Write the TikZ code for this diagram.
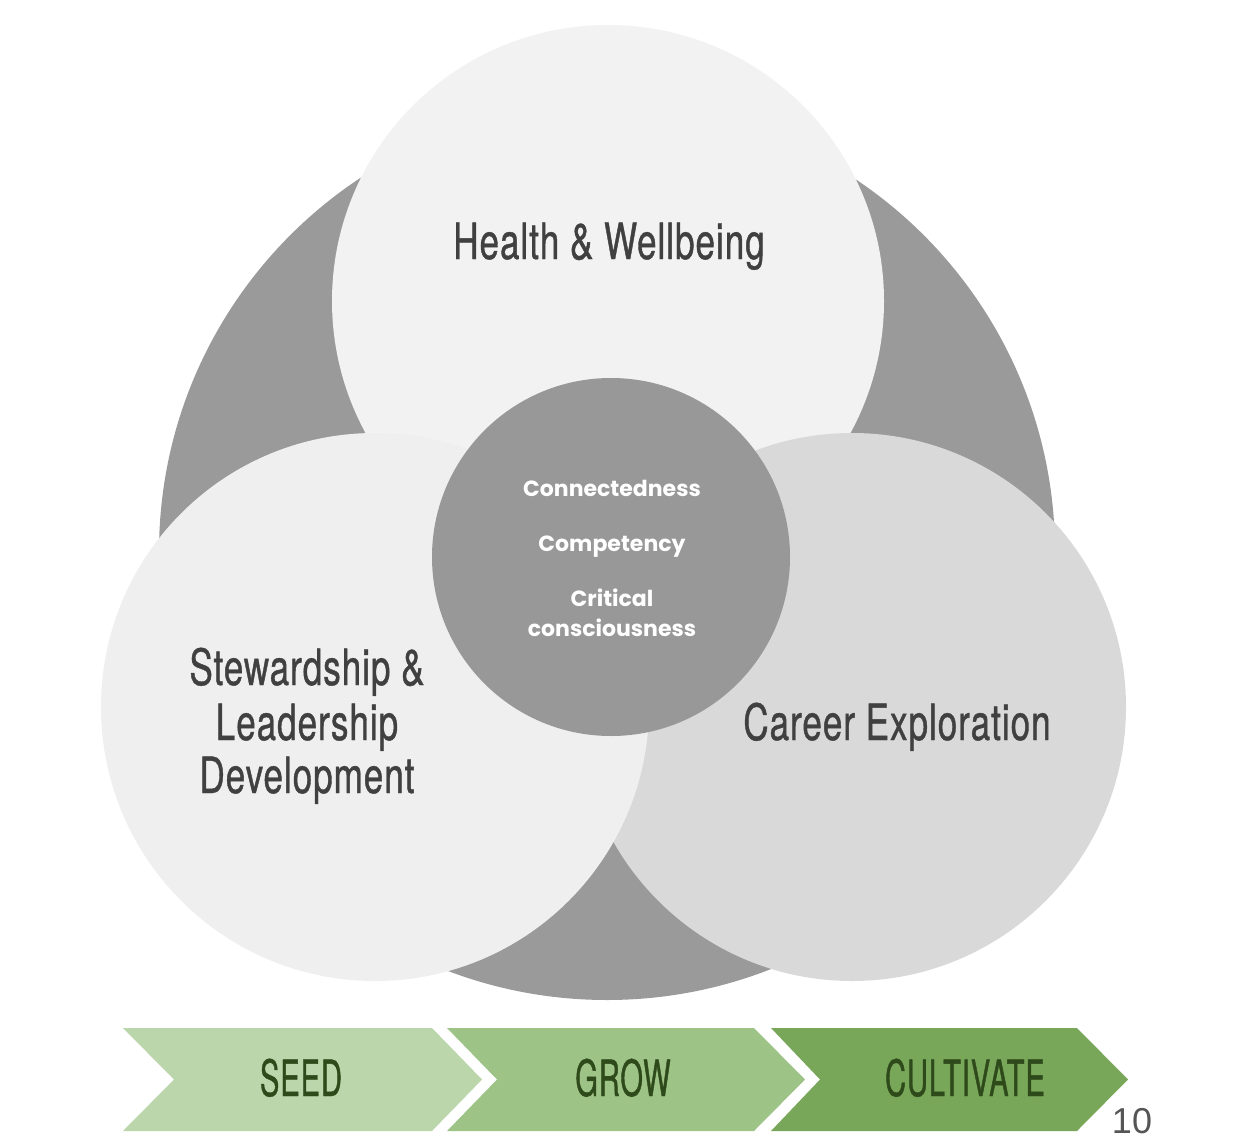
\documentclass[tikz,border=0pt]{standalone}
\usepackage{fontspec}
\newfontfamily\oswald[FakeStretch=0.7,FakeBold=0.8,LetterSpace=2]{TeX Gyre Heros}
\newfontfamily\oswaldcaps[FakeStretch=0.58,FakeBold=0.8,LetterSpace=2]{TeX Gyre Heros}
\newfontfamily\mont{Poppins}
\newfontfamily\pagefont{Liberation Sans}
\definecolor{bigc}{HTML}{9A9A9A}
\definecolor{midc}{HTML}{989898}
\definecolor{topc}{HTML}{F2F2F2}
\definecolor{leftc}{HTML}{EFEFEF}
\definecolor{rightc}{HTML}{D9D9D9}
\definecolor{seedc}{HTML}{BBD6AB}
\definecolor{growc}{HTML}{9EC387}
\definecolor{cultc}{HTML}{79A75A}
\definecolor{greentext}{HTML}{2E4A1B}
\definecolor{graytext}{HTML}{404040}
\definecolor{pagec}{HTML}{555555}
\tikzset{
  disc/.style={circle, inner sep=0pt, draw=none},
  heading/.style={font=\oswald\fontsize{50}{55}\selectfont, text=graytext, anchor=base, align=center, inner sep=0pt},
  stagetext/.style={font=\oswaldcaps\fontsize{50}{55}\selectfont, text=greentext, anchor=base, inner sep=0pt},
  coretext/.style={font=\mont\bfseries\fontsize{22}{30}\selectfont, text=white, anchor=base, align=center, inner sep=0pt},
}
\begin{document}
\begin{tikzpicture}[x=1pt,y=-1pt]
\fill[white] (0,0) rectangle (1240,1146);
\useasboundingbox (0,0) rectangle (1240,1146);
% circles
\node[disc, fill=bigc, minimum size=896pt] (big) at (607,552) {};
\node[disc, fill=topc, minimum size=552pt] (health) at (608,301) {};
\node[disc, fill=rightc, minimum size=548pt] (career) at (852,707) {};
\node[disc, fill=leftc, minimum size=548pt] (steward) at (375,707) {};
\node[disc, fill=midc, minimum size=358pt] (core) at (611,557) {};
% headings
\node[heading] (th) at (609,259) {Health \& Wellbeing};
\node[heading] (ts1) at (307,685) {Stewardship \&};
\node[heading] (ts2) at (307,740) {Leadership};
\node[heading] (ts3) at (307,793) {Development};
\node[heading] (tc) at (897,740) {Career Exploration};
% core text
\node[coretext] (c1) at (612,496) {Connectedness};
\node[coretext] (c2) at (612,551) {Competency};
\node[coretext] (c3) at (612,606) {Critical};
\node[coretext] (c4) at (612,636) {consciousness};
% chevrons
\fill[seedc] (123,1028) -- (432,1028) -- (482,1079.5) -- (432,1131) -- (123,1131) -- (174,1079.5) -- cycle;
\fill[growc] (447,1028) -- (754,1028) -- (805,1079.5) -- (754,1131) -- (447,1131) -- (497,1079.5) -- cycle;
\fill[cultc] (771,1028) -- (1077,1028) -- (1128,1079.5) -- (1077,1131) -- (771,1131) -- (820,1079.5) -- cycle;
\node[stagetext] (seed) at (301,1096) {SEED};
\node[stagetext] (grow) at (623,1096) {GROW};
\node[stagetext] (cult) at (965,1096) {CULTIVATE};
\node[font=\pagefont\fontsize{36}{40}\selectfont, text=pagec, anchor=base, inner sep=0pt] (page) at (1132,1133) {10};
\end{tikzpicture}
\end{document}
